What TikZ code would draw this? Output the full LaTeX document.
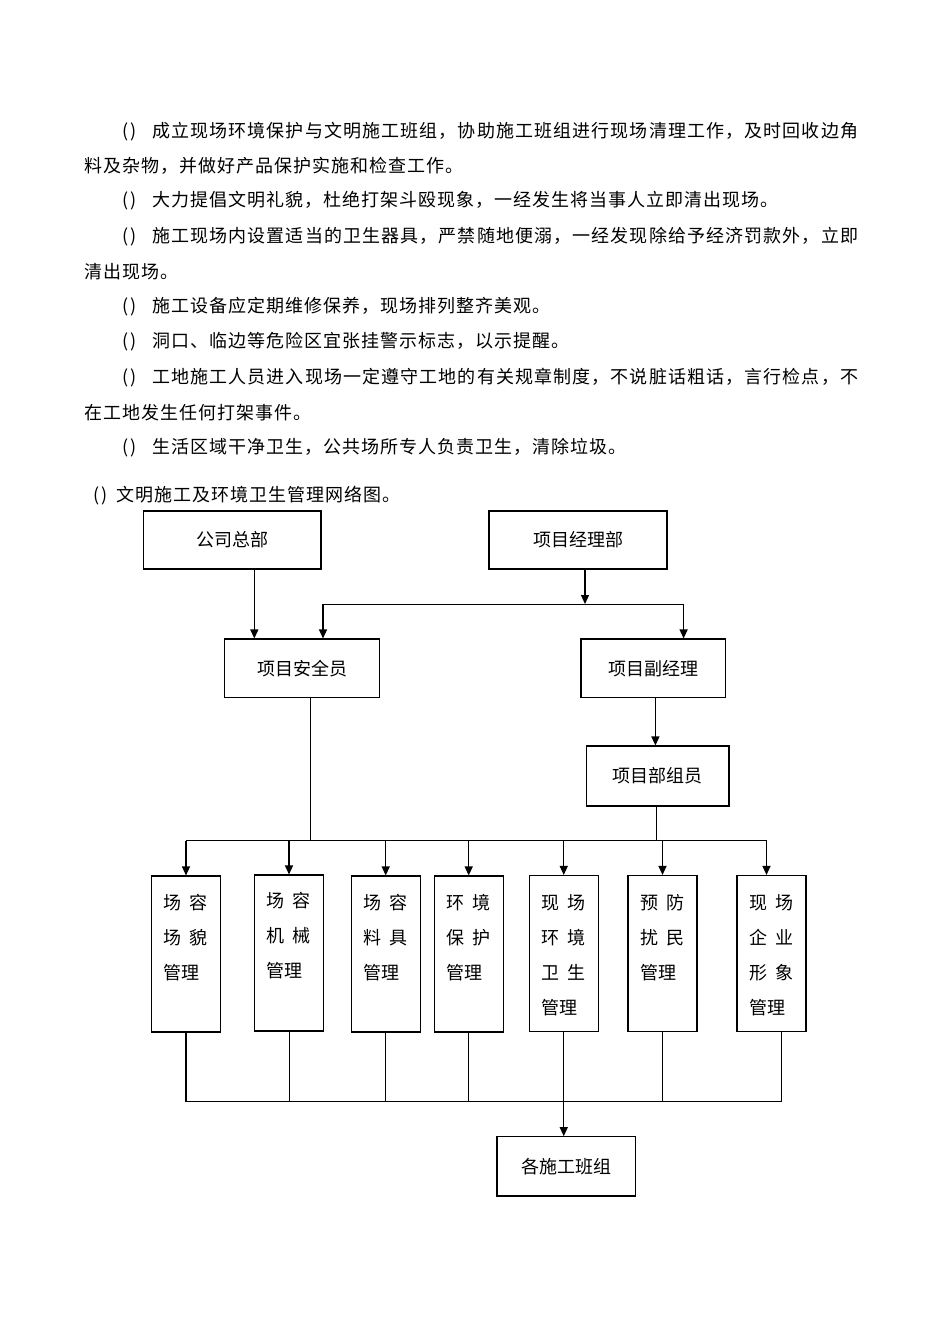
\documentclass[tikz,border=0pt]{standalone}
\usepackage{fontspec}
\setmainfont{Noto Sans CJK SC}
\usetikzlibrary{arrows.meta}
\makeatletter
\def\jst#1{\jst@#1\@nil}
\def\jst@#1{\ifx#1\@nil\unskip\else#1\hskip 1pt plus 1fil\relax\expandafter\jst@\fi}
\makeatother
\newcommand{\pp}{\hbox to 30pt{(\hskip2.5pt)\hfil}}
\begin{document}
\begin{tikzpicture}[x=1pt,y=-1pt,
  box/.style={draw, line width=1.1pt, inner sep=0pt, font=\fontsize{18}{18}\selectfont},
  vbox/.style={draw, line width=1.1pt, inner sep=0pt, minimum width=69pt, minimum height=156pt},
  vt/.style={anchor=north west, inner sep=0pt, align=left, font=\fontsize{18}{35}\selectfont},
  arr/.style={line width=1.2pt, -{Triangle[length=9pt,width=8pt]}},
  ln/.style={line width=0.9pt},
  lnb/.style={line width=1.4pt},
  txt/.style={anchor=west, inner sep=0pt, font=\fontsize{18}{18}\selectfont}]
\useasboundingbox (0,0) rectangle (950,1344);
\fill[white] (0,0) rectangle (950,1344);

% body text
\node[txt] (p1) at (122,131.5) {\pp\hbox to 706pt{\jst{成立现场环境保护与文明施工班组，协助施工班组进行现场清理工作，及时回收边角}}};
\node[txt] (p2) at (84,166) {\hbox{\jst{料及杂物，并做好产品保护实施和检查工作。}}};
\node[txt] (p3) at (122,201) {\pp\hbox{\jst{大力提倡文明礼貌，杜绝打架斗殴现象，一经发生将当事人立即清出现场。}}};
\node[txt] (p4) at (122,236.5) {\pp\hbox to 706pt{\jst{施工现场内设置适当的卫生器具，严禁随地便溺，一经发现除给予经济罚款外，立即}}};
\node[txt] (p5) at (84,271.5) {\hbox{\jst{清出现场。}}};
\node[txt] (p6) at (122,307) {\pp\hbox{\jst{施工设备应定期维修保养，现场排列整齐美观。}}};
\node[txt] (p7) at (122,342) {\pp\hbox{\jst{洞口、临边等危险区宜张挂警示标志，以示提醒。}}};
\node[txt] (p8) at (122,377.5) {\pp\hbox to 706pt{\jst{工地施工人员进入现场一定遵守工地的有关规章制度，不说脏话粗话，言行检点，不}}};
\node[txt] (p9) at (84,412.5) {\hbox{\jst{在工地发生任何打架事件。}}};
\node[txt] (p10) at (122,448) {\pp\hbox{\jst{生活区域干净卫生，公共场所专人负责卫生，清除垃圾。}}};
\node[txt] (p11) at (83,496) {\hbox to 33pt{\hskip10pt(\hskip2.5pt)\hfil}\hbox{\jst{文明施工及环境卫生管理网络图。}}};

% top boxes
\node[box, minimum width=177.5pt, minimum height=58pt] (gs) at (232.25,540) {公司总部};
\node[box, minimum width=178pt, minimum height=58pt] (xm) at (578,540) {项目经理部};
\node[box, minimum width=154.5pt, minimum height=58.5pt] (aq) at (302,668.25) {项目安全员};
\node[box, minimum width=144.5pt, minimum height=58.5pt] (fj) at (653.25,668.25) {项目副经理};
\node[box, minimum width=142.3pt, minimum height=60pt] (zy) at (657.85,776) {项目部组员};

% vertical boxes
\node[vbox] (b1) at (186,954) {};
\node[vbox] (b2) at (289,953) {};
\node[vbox] (b3) at (385.7,954) {};
\node[vbox] (b4) at (468.7,954) {};
\node[vbox] (b5) at (563.75,953.5) {};
\node[vbox] (b6) at (662.5,953.5) {};
\node[vbox] (b7) at (771.5,953.5) {};

\node[vt] (t1) at (163.5,894.5) {场\hskip8pt 容\\场\hskip8pt 貌\\管理};
\node[vt] (t2) at (266.3,892.5) {场\hskip8pt 容\\机\hskip8pt 械\\管理};
\node[vt] (t3) at (363,894.5) {场\hskip8pt 容\\料\hskip8pt 具\\管理};
\node[vt] (t4) at (446,894.5) {环\hskip8pt 境\\保\hskip8pt 护\\管理};
\node[vt] (t5) at (541,894.5) {现\hskip8pt 场\\环\hskip8pt 境\\卫\hskip8pt 生\\管理};
\node[vt] (t6) at (640,894.5) {预\hskip8pt 防\\扰\hskip8pt 民\\管理};
\node[vt] (t7) at (749.5,894.5) {现\hskip8pt 场\\企\hskip8pt 业\\形\hskip8pt 象\\管理};

% bottom box
\node[box, minimum width=138.7pt, minimum height=59.3pt] (bz) at (566.35,1166.35) {各施工班组};

% coordinates
\coordinate (hm) at (585,604);
\coordinate (hl) at (323,604);
\coordinate (hr) at (683.6,604);
\coordinate (bl) at (186,840.5);
\coordinate (br) at (766.5,840.5);
\coordinate (cl) at (186,1101.5);
\coordinate (cr) at (781.7,1101.5);
\coordinate (sa) at (310,697.5);
\coordinate (sz) at (656.3,806);
\coordinate (sg) at (254.3,569);
\coordinate (sf) at (655.4,697.5);

% upper connectors
\draw[arr] (sg) -- (sg |- aq.north);
\draw[arr] (hm |- xm.south) -- (hm);
\draw[ln] (hl) -- (hr);
\draw[arr] (hl) -- (hl |- aq.north);
\draw[arr] (hr) -- (hr |- fj.north);
\draw[arr] (sf) -- (sf |- zy.north);
\draw[ln] (sa) -- (sa |- bl);
\draw[ln] (sz) -- (sz |- bl);

% middle bus
\draw[ln] (bl) -- (br);
\draw[arr] (bl) -- (b1.north);
\draw[arr] (b2.north |- bl) -- (b2.north);
\draw[arr] (b3.north |- bl) -- (b3.north);
\draw[arr] (b4.north |- bl) -- (b4.north);
\draw[arr] (b5.north |- bl) -- (b5.north);
\draw[arr] (b6.north |- bl) -- (b6.north);
\draw[arr] (br) -- (br |- b7.north);

% lower bus
\draw[lnb] (b1.south) -- (cl);
\draw[ln] (b2.south) -- (b2.south |- cl);
\draw[ln] (b3.south) -- (b3.south |- cl);
\draw[ln] (b4.south) -- (b4.south |- cl);
\draw[lnb] (b6.south) -- (b6.south |- cl);
\draw[ln] (cr |- b7.south) -- (cr);
\draw[ln] (cl) -- (cr);
\draw[arr] (b5.south) -- (b5.south |- bz.north);
\end{tikzpicture}
\end{document}
